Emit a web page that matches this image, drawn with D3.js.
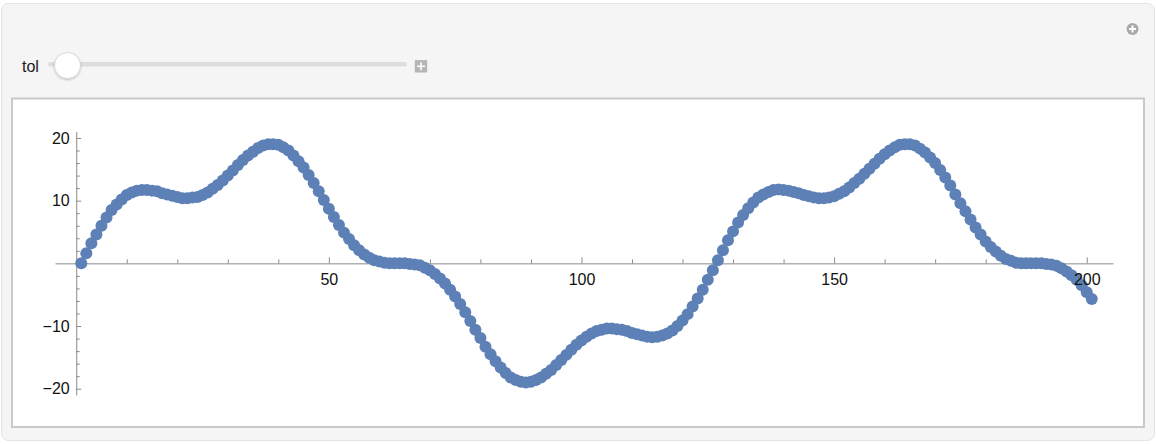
<!DOCTYPE html>
<html>
<head>
<meta charset="utf-8">
<script src="https://cdn.jsdelivr.net/npm/d3@7"></script>
<style>
  body { margin: 0; background: #fff; }
  svg { display: block; font-family: "Liberation Sans", Arial, sans-serif; }
</style>
</head>
<body>
<svg width="1156" height="444"></svg>
<script>
// values of the list plot, one per index (1..201)
const tolValues = [
  0, 1.6, 3.2, 4.6, 6.0, 7.3, 8.5, 9.4, 10.2, 10.9,
  11.3, 11.6, 11.7, 11.7, 11.6, 11.5, 11.2, 11.0, 10.8, 10.6,
  10.4, 10.4, 10.5, 10.6, 10.9, 11.3, 11.9, 12.5, 13.2, 14.0,
  14.8, 15.7, 16.5, 17.2, 17.8, 18.4, 18.8, 19.0, 19.0, 18.9,
  18.5, 18.0, 17.2, 16.3, 15.3, 14.1, 12.8, 11.5, 10.1, 8.7,
  7.4, 6.1, 4.9, 3.9, 2.9, 2.1, 1.4, 0.9, 0.5, 0.3,
  0.1, 0.0, 0.0, 0.0, 0.0, -0.1, -0.2, -0.3, -0.7, -1.1,
  -1.7, -2.4, -3.2, -4.2, -5.3, -6.5, -7.8, -9.2, -10.6, -11.9,
  -13.3, -14.5, -15.6, -16.6, -17.5, -18.2, -18.6, -18.9, -19.0, -18.9,
  -18.6, -18.2, -17.6, -17.0, -16.2, -15.4, -14.6, -13.8, -13.0, -12.3,
  -11.7, -11.2, -10.8, -10.6, -10.4, -10.4, -10.5, -10.6, -10.8, -11.1,
  -11.3, -11.5, -11.7, -11.8, -11.7, -11.5, -11.2, -10.7, -10.0, -9.1,
  -8.1, -6.9, -5.6, -4.2, -2.6, -1.1, 0.5, 2.1, 3.7, 5.1,
  6.5, 7.7, 8.8, 9.7, 10.5, 11.0, 11.4, 11.7, 11.8, 11.7,
  11.6, 11.4, 11.2, 10.9, 10.7, 10.5, 10.4, 10.4, 10.5, 10.7,
  11.1, 11.5, 12.1, 12.8, 13.5, 14.3, 15.1, 15.9, 16.7, 17.4,
  18.0, 18.5, 18.9, 19.0, 19.0, 18.8, 18.3, 17.7, 16.9, 16.0,
  14.9, 13.7, 12.4, 11.0, 9.6, 8.3, 7.0, 5.7, 4.6, 3.5,
  2.6, 1.9, 1.2, 0.7, 0.4, 0.1, 0.0, 0.0, 0.0, 0.0,
  0.0, -0.1, -0.2, -0.4, -0.8, -1.3, -1.9, -2.6, -3.5, -4.6,
  -5.7
];
const xMajorTicks = [50, 100, 150, 200];
const xMinorTicks = [10, 20, 30, 40, 60, 70, 80, 90, 110, 120, 130, 140, 160, 170, 180, 190];
const yMajorTicks = [-20, -10, 10, 20];
const yMinorTicks = [-18, -16, -14, -12, -8, -6, -4, -2, 2, 4, 6, 8, 12, 14, 16, 18];
const sliderLabel = 'tol';

const svg = d3.select('svg');
const axisGray = '#8a8a8a';
const dotColor = '#5d81b6';

// outer manipulate panel
svg.append('rect')
    .attr('x', 1.5).attr('y', 3.5)
    .attr('width', 1153).attr('height', 437)
    .attr('rx', 7)
    .attr('fill', '#f5f5f5')
    .attr('stroke', '#e4e4e4');

// little (+) icon top right
const icon = svg.append('g').attr('transform', 'translate(1132.5,29)');
icon.append('circle').attr('r', 6).attr('fill', '#a9a9a9');
icon.append('rect').attr('x', -3.5).attr('y', -1).attr('width', 7).attr('height', 2).attr('fill', '#fff');
icon.append('rect').attr('x', -1).attr('y', -3.5).attr('width', 2).attr('height', 7).attr('fill', '#fff');

// slider row
const defs = svg.append('defs');
const shadow = defs.append('filter').attr('id', 'thumbShadow')
    .attr('x', '-50%').attr('y', '-50%').attr('width', '200%').attr('height', '200%');
shadow.append('feDropShadow')
    .attr('dx', 0).attr('dy', 1).attr('stdDeviation', 1)
    .attr('flood-color', '#000').attr('flood-opacity', 0.25);

svg.append('text')
    .text(sliderLabel)
    .attr('x', 22).attr('y', 71.5)
    .attr('font-size', 16)
    .attr('fill', '#1a1a1a');
svg.append('rect')
    .attr('x', 48).attr('y', 62)
    .attr('width', 359).attr('height', 4.5)
    .attr('rx', 2.25)
    .attr('fill', '#dddddd');
svg.append('circle')
    .attr('cx', 67.5).attr('cy', 65.5).attr('r', 13)
    .attr('fill', '#fff')
    .attr('stroke', '#d2d2d2')
    .attr('stroke-width', 0.8)
    .attr('filter', 'url(#thumbShadow)');
const plusBtn = svg.append('g').attr('transform', 'translate(421,66.3)');
plusBtn.append('rect').attr('x', -6.2).attr('y', -6.2).attr('width', 12.4).attr('height', 12.4).attr('fill', '#b5b5b5');
plusBtn.append('rect').attr('x', -4).attr('y', -0.8).attr('width', 8).attr('height', 1.6).attr('fill', '#fff');
plusBtn.append('rect').attr('x', -0.8).attr('y', -4).attr('width', 1.6).attr('height', 8).attr('fill', '#fff');

// white plot box
svg.append('rect')
    .attr('x', 12).attr('y', 98.5)
    .attr('width', 1132).attr('height', 328.5)
    .attr('fill', '#fff')
    .attr('stroke', '#c9c9c9')
    .attr('stroke-width', 2);

// scales
const xScale = d3.scaleLinear().domain([-4.2, 205.2]).range([55, 1113]);
const yScale = d3.scaleLinear().domain([-21, 21]).range([395, 131.7]);

const data = tolValues.map((v, i) => ({ x: i + 1, y: v }));

// axis lines and ticks (under the points)
const xAxisG = svg.append('g').attr('transform', `translate(0,${yScale(0)})`);
xAxisG.call(d3.axisBottom(xScale).tickValues(xMajorTicks).tickSizeInner(-6).tickSizeOuter(0).tickFormat(''));
xAxisG.append('g').call(d3.axisBottom(xScale).tickValues(xMinorTicks).tickSizeInner(-4).tickSizeOuter(0).tickFormat(''))
    .select('.domain').remove();

const yAxisG = svg.append('g').attr('transform', `translate(${xScale(0)},0)`);
yAxisG.call(d3.axisLeft(yScale).tickValues(yMajorTicks).tickSizeInner(-5).tickSizeOuter(0).tickFormat(''));
yAxisG.append('g').call(d3.axisLeft(yScale).tickValues(yMinorTicks).tickSizeInner(-3.5).tickSizeOuter(0).tickFormat(''))
    .select('.domain').remove();

svg.selectAll('.domain, .tick line')
    .attr('stroke', axisGray)
    .attr('stroke-width', 1);

// points
svg.append('g')
    .selectAll('circle')
    .data(data)
    .enter()
    .append('circle')
        .attr('cx', d => xScale(d.x))
        .attr('cy', d => yScale(d.y))
        .attr('r', 6)
        .attr('fill', dotColor);

// tick labels on top
const xLabels = svg.append('g').attr('transform', `translate(0,${yScale(0)})`)
    .call(d3.axisBottom(xScale).tickValues(xMajorTicks).tickSize(0).tickPadding(10.5));
const yLabels = svg.append('g').attr('transform', `translate(${xScale(0)},0)`)
    .call(d3.axisLeft(yScale).tickValues(yMajorTicks).tickSize(0).tickPadding(6.5));
[xLabels, yLabels].forEach(g => {
  g.select('.domain').remove();
  g.selectAll('text')
      .attr('font-size', 16)
      .attr('font-family', '"Liberation Sans", Arial, sans-serif')
      .attr('fill', '#111');
});
</script>
</body>
</html>
